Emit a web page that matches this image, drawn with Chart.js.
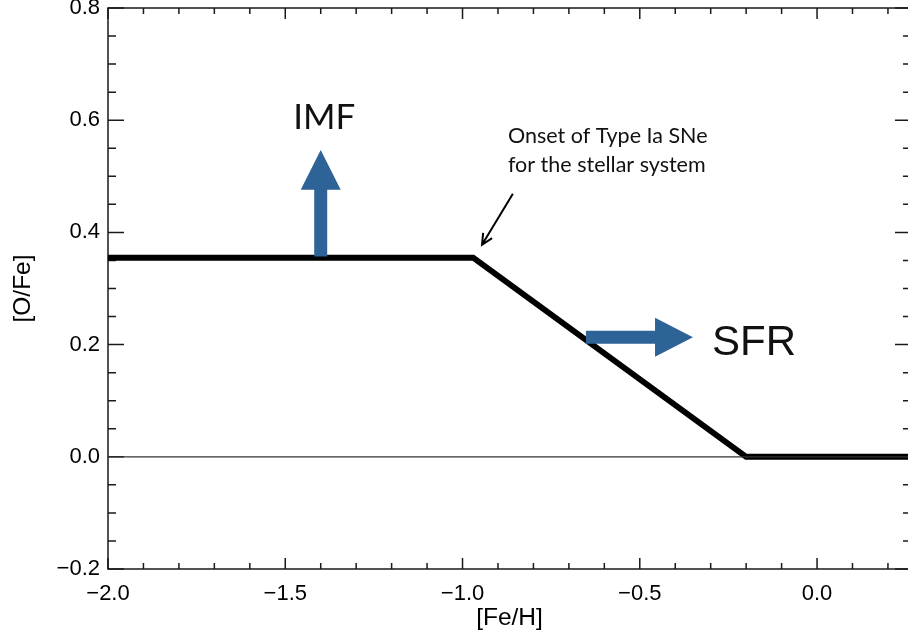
<!DOCTYPE html>
<html><head><meta charset="utf-8">
<script src="https://cdn.jsdelivr.net/npm/chart.js@4/dist/chart.umd.min.js"></script>
<style>html,body{margin:0;padding:0;background:#fff;overflow:hidden;width:908px;height:634px}canvas{display:block}</style>
</head><body>
<canvas id="c" width="912" height="634"></canvas>
<script>
// ---- data ----
const feH = [-2.0, -0.97, -0.2, 0.265];
const oFe = [0.355, 0.355, 0.0, 0.0];
const zeroX = [-2.0, 0.265];
const zeroY = [0.0, 0.0];
const xTickLabels = ['\u22122.0', '\u22121.5', '\u22121.0', '\u22120.5', '0.0'];
const yTickLabels = ['\u22120.2', '0.0', '0.2', '0.4', '0.6', '0.8'];
const xRange = [-2.0, 0.265];
const yRange = [-0.2, 0.8];
const xTitle = '[Fe/H]';
const yTitle = '[O/Fe]';
const noteLines = ['Onset of Type Ia SNe', 'for the stellar system'];
const imfLabel = 'IMF';
const sfrLabel = 'SFR';

// annotation anchors (data coordinates)
const imfArrow = {x: -1.4, y0: 0.357, yHead: 0.476, yTip: 0.547};
const sfrArrow = {y: 0.213, x0: -0.652, xHead: -0.457, xTip: -0.350};
const noteArrow = {x0: -0.858, y0: 0.469, x1: -0.945, y1: 0.378};
const imfText = {x: -1.39, y: 0.585};
const sfrText = {x: -0.296, y: 0.181};
const noteText = {x: -0.872, y: [0.560, 0.508]};

const BLUE = '#2D6397';

const frame = {
  id: 'frame',
  beforeDatasetsDraw(chart) {
    const {ctx, chartArea: a, scales: {x, y}} = chart;
    ctx.save();
    ctx.strokeStyle = '#1a1a1a';
    ctx.lineWidth = 1.5;
    ctx.strokeRect(a.left, a.top, a.right - a.left, a.bottom - a.top);
    ctx.beginPath();
    for (let i = 0; i <= 30; i++) {
      const v = xRange[0] + i * 0.1;
      if (v > xRange[1] + 1e-9) break;
      const px = x.getPixelForValue(v);
      const L = (i % 5 === 0) ? 11 : 6;
      ctx.moveTo(px, a.bottom); ctx.lineTo(px, a.bottom - L);
      ctx.moveTo(px, a.top); ctx.lineTo(px, a.top + L);
    }
    for (let i = 0; i <= 20; i++) {
      const v = yRange[0] + i * 0.05;
      const py = y.getPixelForValue(v);
      const L = (i % 4 === 0) ? 16 : 8;
      ctx.moveTo(a.left, py); ctx.lineTo(a.left + L, py);
      ctx.moveTo(a.right, py); ctx.lineTo(a.right - L, py);
    }
    ctx.stroke();
    ctx.restore();
  },
  afterDatasetsDraw(chart) {
    const {ctx, scales: {x, y}} = chart;
    const X = v => x.getPixelForValue(v), Y = v => y.getPixelForValue(v);
    ctx.save();
    // IMF arrow (up)
    ctx.fillStyle = BLUE;
    let cx = X(imfArrow.x);
    ctx.beginPath();
    ctx.moveTo(cx - 6.5, Y(imfArrow.y0));
    ctx.lineTo(cx - 6.5, Y(imfArrow.yHead));
    ctx.lineTo(cx - 20, Y(imfArrow.yHead));
    ctx.lineTo(cx, Y(imfArrow.yTip));
    ctx.lineTo(cx + 20, Y(imfArrow.yHead));
    ctx.lineTo(cx + 6.5, Y(imfArrow.yHead));
    ctx.lineTo(cx + 6.5, Y(imfArrow.y0));
    ctx.closePath();
    ctx.fill();
    // SFR arrow (right)
    let cy = Y(sfrArrow.y);
    ctx.beginPath();
    ctx.moveTo(X(sfrArrow.x0), cy - 6.5);
    ctx.lineTo(X(sfrArrow.xHead), cy - 6.5);
    ctx.lineTo(X(sfrArrow.xHead), cy - 19.5);
    ctx.lineTo(X(sfrArrow.xTip), cy);
    ctx.lineTo(X(sfrArrow.xHead), cy + 19.5);
    ctx.lineTo(X(sfrArrow.xHead), cy + 6.5);
    ctx.lineTo(X(sfrArrow.x0), cy + 6.5);
    ctx.closePath();
    ctx.fill();
    // note arrow
    const x0 = X(noteArrow.x0), y0 = Y(noteArrow.y0), x1 = X(noteArrow.x1), y1 = Y(noteArrow.y1);
    ctx.strokeStyle = '#000';
    ctx.lineWidth = 2;
    ctx.beginPath();
    ctx.moveTo(x0, y0); ctx.lineTo(x1, y1);
    const ang = Math.atan2(y1 - y0, x1 - x0);
    const hl = 12, ha = 0.45;
    ctx.moveTo(x1 - hl * Math.cos(ang - ha), y1 - hl * Math.sin(ang - ha));
    ctx.lineTo(x1, y1);
    ctx.lineTo(x1 - hl * Math.cos(ang + ha), y1 - hl * Math.sin(ang + ha));
    ctx.stroke();
    // texts
    ctx.fillStyle = '#111';
    ctx.textBaseline = 'alphabetic';
    ctx.font = '35px Lato';
    ctx.textAlign = 'center';
    ctx.fillText(imfLabel, X(imfText.x), Y(imfText.y));
    ctx.textAlign = 'left';
    ctx.font = '42px "Liberation Sans"';
    ctx.fillText(sfrLabel, X(sfrText.x), Y(sfrText.y));
    ctx.font = '21.5px Lato';
    noteLines.forEach((t, i) => ctx.fillText(t, X(noteText.x), Y(noteText.y[i])));
    ctx.restore();
  }
};

const tickFont = {family: '"Liberation Sans", Arial, sans-serif', size: 22};
const titleFont = {family: '"Liberation Sans", Arial, sans-serif', size: 24.5};

new Chart(document.getElementById('c'), {
  type: 'scatter',
  data: {
    datasets: [
      {data: zeroX.map((v, i) => ({x: v, y: zeroY[i]})), showLine: true, borderColor: '#333', borderWidth: 1.3, pointRadius: 0},
      {data: feH.map((v, i) => ({x: v, y: oFe[i]})), showLine: true, borderColor: '#000', borderWidth: 6, pointRadius: 0, borderJoinStyle: 'miter', borderCapStyle: 'butt'}
    ]
  },
  options: {
    responsive: false, animation: false, devicePixelRatio: 1,
    layout: {padding: {top: 8, left: 0, right: 1, bottom: 0}},
    plugins: {legend: {display: false}, tooltip: {enabled: false}},
    scales: {
      x: {
        type: 'linear', min: xRange[0], max: xRange[1],
        grid: {display: false, drawTicks: false}, border: {display: false},
        ticks: {stepSize: 0.5, includeBounds: false, font: tickFont, color: '#000', padding: 12,
          callback: (v, i) => xTickLabels[i]},
        title: {display: true, text: xTitle, font: titleFont, color: '#000', padding: {top: 0, bottom: 1}},
        afterFit: s => { s.height = 65; s.paddingLeft = 0; s.paddingRight = 0; }
      },
      y: {
        type: 'linear', min: yRange[0], max: yRange[1],
        grid: {display: false, drawTicks: false}, border: {display: false},
        ticks: {stepSize: 0.2, includeBounds: false, font: tickFont, color: '#000', padding: 8,
          callback: (v, i) => yTickLabels[i]},
        title: {display: true, text: yTitle, font: titleFont, color: '#000', padding: {top: 9, bottom: 0}},
        afterFit: s => { s.width = 108; s.paddingTop = 0; s.paddingBottom = 0; }
      }
    }
  },
  plugins: [frame]
});
</script>
</body></html>
